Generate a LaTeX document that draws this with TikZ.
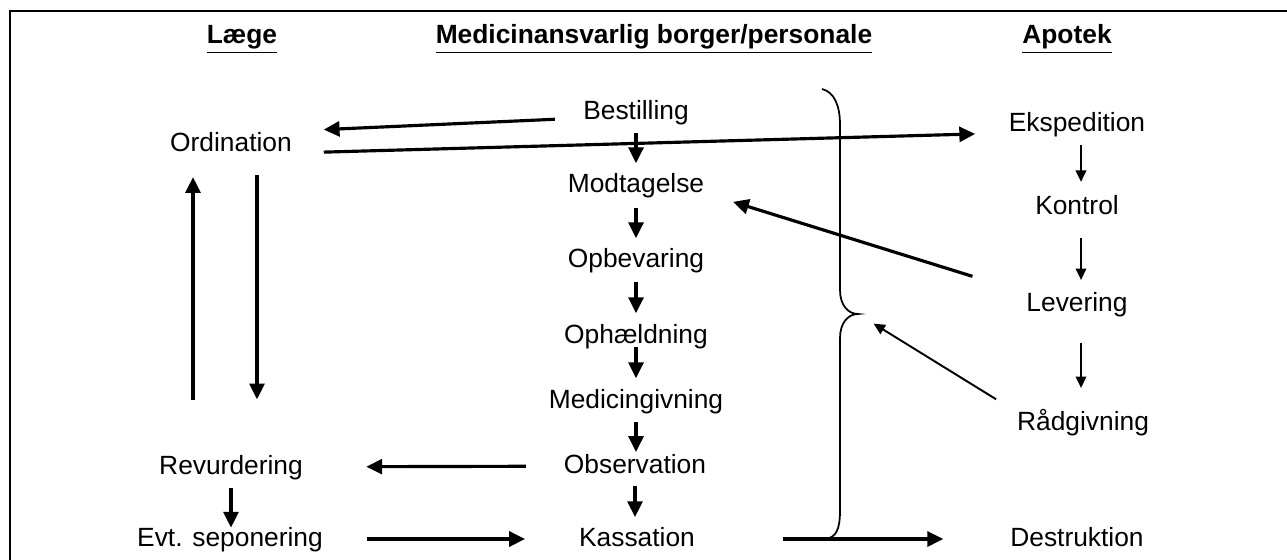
\documentclass[tikz,border=0pt]{standalone}
\usepackage{fontspec}
\setmainfont{Liberation Sans}
\usetikzlibrary{arrows.meta}

\begin{document}
\begin{tikzpicture}[x=0.02cm, y=-0.02cm,
  txt/.style={anchor=base, inner sep=0pt, text height=11.25pt, text depth=3.3pt, font=\fontsize{15}{18}\selectfont},
  hd/.style={anchor=base, inner sep=0pt, font=\fontsize{15}{18}\selectfont\bfseries},
  arr/.style={line width=1.8pt, -{Triangle[length=9pt,width=8.5pt]}},
  tarr/.style={line width=1.1pt, -{Triangle[length=6.5pt,width=6pt]}}]
\useasboundingbox (0,0) rectangle (1287,560);
\draw[line width=1.1pt] (1287,11) -- (10,11) -- (10,560);

\node[hd] (hlaege) at (242,44) {\underline{Læge}};
\node[hd] (hborger) at (654,44) {\underline{Medicinansvarlig borger/personale}};
\node[hd] (hapotek) at (1067,44) {\underline{Apotek}};

\node[txt] (ordin) at (231,152) {Ordination};
\node[txt] (revurd) at (231,474) {Revurdering};
\node[txt] (sepon) at (230,546) {Evt. seponering};
\node[txt] (bestil) at (636,120) {Bestilling};
\node[txt] (modtag) at (636,193) {Modtagelse};
\node[txt] (opbev) at (636,268) {Opbevaring};
\node[txt] (ophaeld) at (636,343) {Ophældning};
\node[txt] (medgiv) at (636,408) {Medicingivning};
\node[txt] (observ) at (635,473) {Observation};
\node[txt] (kassat) at (637,546) {Kassation};
\node[txt] (eksped) at (1077,132) {Ekspedition};
\node[txt] (kontrol) at (1077,215) {Kontrol};
\node[txt] (lever) at (1077,312) {Levering};
\node[txt] (raad) at (1083,430) {Rådgivning};
\node[txt] (destr) at (1077,546) {Destruktion};

\coordinate (bracetip) at (858,314);
\draw[line width=1pt] (822,89) .. controls (834,92) and (840,105) .. (840,125) -- (840,290)
  .. controls (840,305) and (848,314) .. (bracetip) .. controls (848,314) and (840,323) .. (840,338)
  -- (840,510) .. controls (840,530) and (836,537) .. (826,539);

\draw[arr, shorten <=16pt, shorten >=18pt] ([yshift=-0.1cm]bestil.west) -- ([yshift=0.28cm]ordin.east);
\draw[arr, shorten <=18pt, shorten >=19pt] ([yshift=-0.16cm]ordin.east) -- ([yshift=-0.16cm]eksped.west);

\draw[arr, shorten <=4pt, shorten >=5.5pt] (bestil.south) -- (bestil.south |- modtag.north);
\draw[arr, shorten <=5pt, shorten >=5.5pt] (modtag.south) -- (modtag.south |- opbev.north);
\draw[arr, shorten <=4.5pt, shorten >=5.5pt] (opbev.south) -- (opbev.south |- ophaeld.north);
\draw[arr, shorten <=-1pt, shorten >=5.5pt] (ophaeld.south) -- (ophaeld.south |- medgiv.north);
\draw[arr, shorten <=4.5pt, shorten >=0.5pt] (medgiv.south) -- (medgiv.south |- observ.north);
\draw[arr, shorten <=4pt, shorten >=5pt] (observ.south) -- (observ.south |- kassat.north);

\draw[arr, shorten <=30.6pt, shorten >=10.8pt] ([xshift=-0.76cm]revurd.north) -- ([xshift=-0.76cm]ordin.south);
\draw[arr, shorten <=9.6pt, shorten >=31pt] ([xshift=0.52cm]ordin.south) -- ([xshift=0.52cm]revurd.north);
\draw[arr, shorten <=4.5pt, shorten >=-1pt] (revurd.south) -- (revurd.south |- sepon.north);

\draw[arr, shorten <=21.5pt, shorten >=36pt] (observ) -- (revurd);
\draw[arr, shorten <=25pt, shorten >=30.6pt] (sepon) -- (kassat);
\draw[arr, shorten <=50pt, shorten >=38pt] (kassat) -- (destr);

\draw[arr, shorten <=32pt, shorten >=17pt] ([yshift=0.24cm]lever.west) -- ([yshift=-0.14cm]modtag.east);
\draw[tarr, shorten <=13.8pt, shorten >=10.4pt] ([yshift=0.22cm]raad.west) -- (bracetip);

\draw[tarr, shorten <=4pt, shorten >=7.4pt] ([xshift=0.08cm]eksped.south) -- ([xshift=0.08cm]eksped.south |- kontrol.north);
\draw[tarr, shorten <=9.6pt, shorten >=6.8pt] ([xshift=0.08cm]kontrol.south) -- ([xshift=0.08cm]kontrol.south |- lever.north);
\draw[tarr, shorten <=14.2pt, shorten >=12.5pt] ([xshift=0.08cm]lever.south) -- ([xshift=0.08cm]lever.south |- raad.north);
\end{tikzpicture}
\end{document}
